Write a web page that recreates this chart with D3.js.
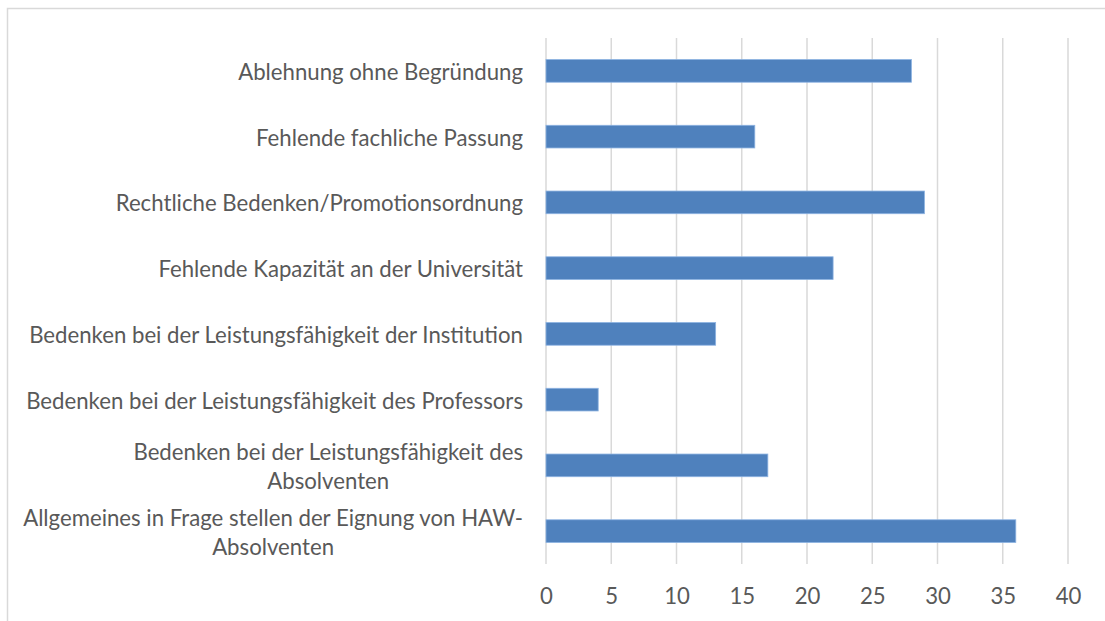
<!DOCTYPE html>
<html>
<head>
<meta charset="utf-8">
<script src="https://cdn.jsdelivr.net/npm/d3@7"></script>
<style>
  html, body { margin: 0; padding: 0; background: #fff; overflow: hidden; }
  svg { display: block; }
</style>
</head>
<body>
<svg id="chart"></svg>
<script>
// Horizontal bar chart, Excel look

const WIDTH = 1105;
const HEIGHT = 621;

// category labels, top to bottom; "\n" marks the wrap point
const categories = [
    "Ablehnung ohne Begründung",
    "Fehlende fachliche Passung",
    "Rechtliche Bedenken/Promotionsordnung",
    "Fehlende Kapazität an der Universität",
    "Bedenken bei der Leistungsfähigkeit der Institution",
    "Bedenken bei der Leistungsfähigkeit des Professors",
    "Bedenken bei der Leistungsfähigkeit des\nAbsolventen",
    "Allgemeines in Frage stellen der Eignung von HAW-\nAbsolventen"
];
const values = [28, 16, 29, 22, 13, 4, 17, 36];
const xTicks = [0, 5, 10, 15, 20, 25, 30, 35, 40];

const FONT = "Lato, 'Open Sans', sans-serif";
const FONT_SIZE = 22.2;
const TEXT_COLOR = "#595959";
const GRID_COLOR = "#d9d9d9";

const margin = { left: 546, right: 37, top: 38, bottom: 57 };

const svg = d3.select("#chart")
    .attr("width", WIDTH)
    .attr("height", HEIGHT);

// chart frame (runs off the right and bottom edge like the original)
svg.append("rect")
    .attr("x", 7.5).attr("y", 8.5)
    .attr("width", 1200).attr("height", 700)
    .attr("fill", "#fff")
    .attr("stroke", GRID_COLOR)
    .attr("stroke-width", 1.5);

const x = d3.scaleLinear()
    .domain([0, 40])
    .range([margin.left, WIDTH - margin.right]);

const y = d3.scaleBand()
    .domain(categories)
    .range([margin.top, HEIGHT - margin.bottom])
    .paddingInner(0.655)
    .paddingOuter(0.3275);

// vertical gridlines
svg.append("g")
    .selectAll("line")
    .data(xTicks)
    .join("line")
    .attr("x1", d => x(d)).attr("x2", d => x(d))
    .attr("y1", margin.top).attr("y2", HEIGHT - margin.bottom)
    .attr("stroke", GRID_COLOR)
    .attr("stroke-width", 1.5);

// bars
svg.append("g")
    .selectAll("rect")
    .data(values)
    .join("rect")
    .attr("x", x(0))
    .attr("y", (d, i) => y(categories[i]))
    .attr("width", d => x(d) - x(0))
    .attr("height", y.bandwidth())
    .attr("fill", "#4f81bd")
    .attr("stroke", "#8db3e2")
    .attr("stroke-width", 0.8);

// x tick labels
const xAxis = svg.append("g")
    .attr("transform", `translate(0, ${HEIGHT - margin.bottom})`)
    .call(d3.axisBottom(x).tickValues(xTicks).tickSize(0).tickPadding(24));
xAxis.select(".domain").remove();
xAxis.selectAll("text")
    .attr("font-family", FONT)
    .attr("font-size", FONT_SIZE)
    .attr("fill", TEXT_COLOR);

// category labels, wrapped ones centred on their own longest line
const LABEL_RIGHT = 523;
const LINE_H = 29;
const labels = svg.append("g")
    .attr("font-family", FONT)
    .attr("font-size", FONT_SIZE)
    .attr("fill", TEXT_COLOR);

categories.forEach(cat => {
    const lines = cat.split("\n");
    const cy = y(cat) + y.bandwidth() / 2;
    const t = labels.append("text")
        .attr("dominant-baseline", "central");
    lines.forEach((ln, j) => {
        t.append("tspan")
            .attr("y", cy + (j - (lines.length - 1) / 2) * LINE_H)
            .text(ln);
    });
    if (lines.length === 1) {
        t.attr("text-anchor", "end").selectAll("tspan").attr("x", LABEL_RIGHT);
    } else {
        let maxW = 0;
        t.selectAll("tspan").each(function () {
            maxW = Math.max(maxW, this.getComputedTextLength());
        });
        t.attr("text-anchor", "middle").selectAll("tspan").attr("x", LABEL_RIGHT - maxW / 2);
    }
});
</script>
</body>
</html>
